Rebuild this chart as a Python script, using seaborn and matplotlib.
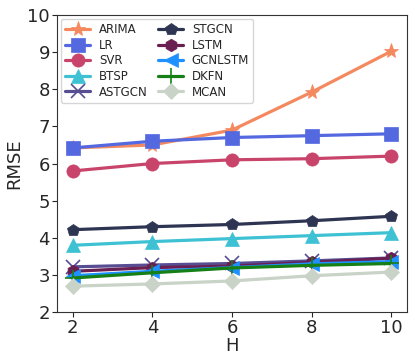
import matplotlib
matplotlib.use("Agg")
import matplotlib.pyplot as plt
import seaborn as sns
import pandas as pd

sns.set_style("ticks")
plt.rcParams['font.family'] = ['DejaVu Sans']

# horizon values
H = [2, 4, 6, 8, 10]

# RMSE per model
arima = [6.42, 6.50, 6.90, 7.92, 9.02]
lr = [6.42, 6.60, 6.70, 6.75, 6.80]
svr = [5.80, 6.00, 6.10, 6.13, 6.20]
btsp = [3.80, 3.90, 3.98, 4.06, 4.14]
astgcn = [3.22, 3.27, 3.31, 3.38, 3.46]
stgcn = [4.22, 4.30, 4.36, 4.46, 4.58]
lstm = [3.10, 3.20, 3.24, 3.34, 3.45]
gcnlstm = [2.98, 3.10, 3.20, 3.30, 3.36]
dkfn = [2.92, 3.06, 3.19, 3.26, 3.31]
mcan = [2.70, 2.76, 2.84, 2.98, 3.08]

models = ['ARIMA', 'LR', 'SVR', 'BTSP', 'ASTGCN', 'STGCN', 'LSTM', 'GCNLSTM', 'DKFN', 'MCAN']
values = [arima, lr, svr, btsp, astgcn, stgcn, lstm, gcnlstm, dkfn, mcan]
colors = ['#f4895f', '#5468e0', '#c8446a', '#3ec1d3', '#574d93',
          '#2d3553', '#6a1f52', '#1e90ff', '#168016', '#c9d3c7']
markers = ['*', 's', 'o', '^', 'x', 'p', 'h', '<', '+', 'D']
sizes = [11, 9.5, 9.5, 9.5, 10, 9, 9, 9.5, 11, 8.5]

df = pd.DataFrame({'H': H * len(models),
                   'RMSE': sum(values, []),
                   'model': [m for m in models for _ in H]})

fig, ax = plt.subplots(figsize=(4.15, 3.63), dpi=100)
fig.subplots_adjust(left=0.137, right=0.981, top=0.959, bottom=0.140)

for m, c, mk, ms in zip(models, colors, markers, sizes):
    sub = df[df['model'] == m]
    sns.lineplot(data=sub, x='H', y='RMSE', ax=ax, color=c, marker=mk,
                 markersize=ms, linewidth=2.3, markeredgecolor=c,
                 markeredgewidth=1.2 if mk in ('x', '+') else 0.5, label=m)

ax.set_xlim(1.6, 10.4)
ax.set_ylim(2, 10)
ax.set_xticks([2, 4, 6, 8, 10])
ax.set_yticks(range(2, 11))
ax.tick_params(labelsize=13, length=3.5, pad=1.5)
ax.set_xlabel('H', fontsize=13, labelpad=0)
ax.set_ylabel('RMSE', fontsize=13, labelpad=3)

ax.legend(loc='upper left', ncol=2, fontsize=8.5, frameon=True,
          handlelength=2.1, labelspacing=0.22, columnspacing=0.9,
          borderpad=0.35, handletextpad=0.75, borderaxespad=0.35)

for s in ax.spines.values():
    s.set_color('#333333')

plt.savefig('out.png', dpi=100)
